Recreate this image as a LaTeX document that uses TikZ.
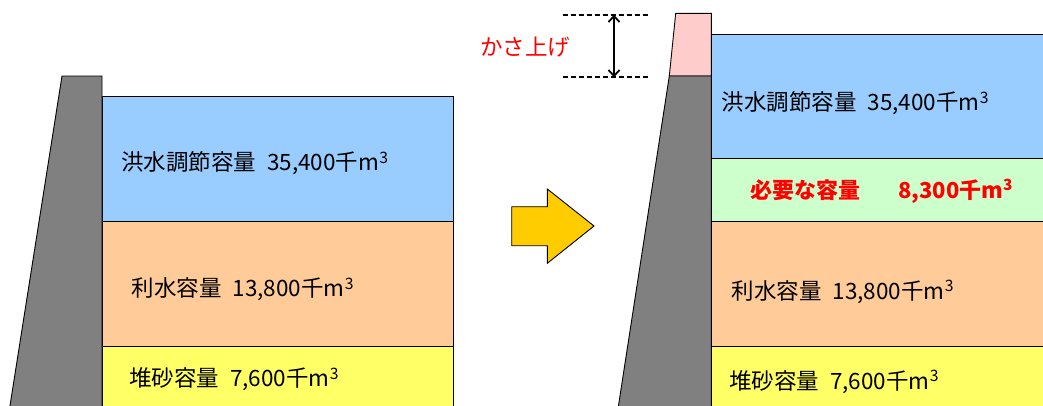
\documentclass[tikz,border=0pt]{standalone}
\usepackage{fontspec}
\setmainfont{Noto Sans CJK JP}
\usetikzlibrary{arrows.meta}
\definecolor{floodblue}{HTML}{99CCFF}
\definecolor{wateror}{HTML}{FFCC99}
\definecolor{sandyel}{HTML}{FFFF66}
\definecolor{needgreen}{HTML}{CCFFCC}
\definecolor{raisepink}{HTML}{FFCCCC}
\definecolor{damgray}{HTML}{808080}
\definecolor{arrowgold}{HTML}{FFCC00}
\definecolor{labelred}{HTML}{FF0000}
\newcommand{\cubem}{m\textsuperscript{3}}
\begin{document}
\begin{tikzpicture}[x=1pt,y=-1pt,
  layer/.style={draw=black,line width=0.9pt},
  dam/.style={draw=black,line width=0.9pt,fill=damgray},
  lbl/.style={anchor=west,inner sep=0pt,font=\fontsize{22.5}{22.5}\selectfont},
  redlbl/.style={anchor=west,inner sep=0pt,text=labelred,font=\fontsize{22}{22}\selectfont\bfseries},
  guide/.style={line width=1.8pt,dash pattern=on 5pt off 3pt},
  dimarrow/.style={line width=1.8pt,{Straight Barb[length=6pt,width=11pt]}-{Straight Barb[length=6pt,width=11pt]}}]
\useasboundingbox (0,0) rectangle (1043,405);
% left reservoir layers
\path[layer,fill=floodblue] (102,96) rectangle (453,221);
\path[layer,fill=wateror] (102,221) rectangle (453,346);
\path[layer,fill=sandyel] (102,346) rectangle (453,412);
% left dam
\path[dam] (62,76) -- (102,76) -- (102,412) -- (9,412) -- cycle;
% arrow
\path[draw=black,line width=0.9pt,fill=arrowgold] (511.7,206.7) -- (547.3,206.7) -- (547.3,189) -- (594,226) -- (547.3,263.3) -- (547.3,245.7) -- (511.7,245.7) -- cycle;
% right reservoir layers
\path[layer,fill=floodblue] (711,34) rectangle (1050,158);
\path[layer,fill=needgreen] (711,158) rectangle (1050,221);
\path[layer,fill=wateror] (711,221) rectangle (1050,346);
\path[layer,fill=sandyel] (711,346) rectangle (1050,412);
% right dam with raised crest
\path[layer,fill=raisepink] (675.7,13.3) -- (711.3,13.3) -- (711.3,76) -- (669.3,76) -- cycle;
\path[dam] (669.3,76) -- (711.3,76) -- (711.3,412) -- (617.5,412) -- cycle;
% guides
\coordinate (gtl) at (563,14.7);
\coordinate (gtr) at (650,14.7);
\coordinate (gbl) at (563,77.3);
\coordinate (gbr) at (650,77.3);
\coordinate (atop) at (614,14.7);
\coordinate (abot) at (614,77.3);
\draw[guide] (gtl) -- (gtr);
\draw[guide] (gbl) -- (gbr);
\draw[dimarrow] (atop) -- (abot);
\node[anchor=center,inner sep=0pt,text=labelred,font=\fontsize{22.5}{22.5}\selectfont] (kasa) at (525,46.7) {かさ上げ};
% labels
\node[lbl] (lflood) at (121,163.3) {洪水調節容量\hspace{6pt} 35,400千\cubem};
\node[lbl] (lwater) at (131.5,289.3) {利水容量\hspace{6pt} 13,800千\cubem};
\node[lbl] (lsand) at (129,379.3) {堆砂容量\hspace{6pt} 7,600千\cubem};
\node[lbl] (rflood) at (721.5,103.3) {洪水調節容量\hspace{6pt} 35,400千\cubem};
\node[redlbl] (rneed) at (750,191.5) {必要な容量\hspace{38pt}8,300千\cubem};
\node[lbl] (rwater) at (731.5,291.7) {利水容量\hspace{6pt} 13,800千\cubem};
\node[lbl] (rsand) at (729,381.7) {堆砂容量\hspace{6pt} 7,600千\cubem};
\end{tikzpicture}
\end{document}
